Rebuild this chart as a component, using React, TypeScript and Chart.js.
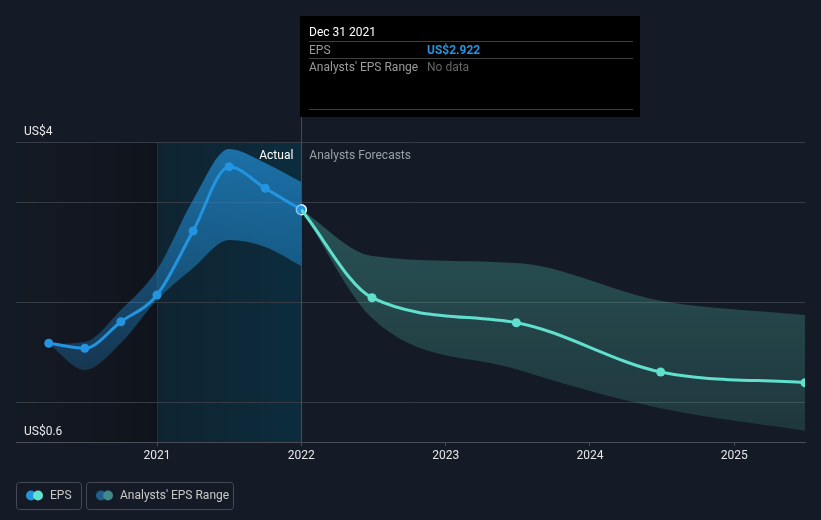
import React, { useEffect, useRef } from "react";
import { Chart, registerables } from "chart.js";

Chart.register(...registerables);

const X_MIN = 2020.023;
const X_MAX = 2025.49;
const Y_MIN = 0.6;
const Y_MAX = 3.6;
const Y_GRID = [0.6, 1, 2, 3, 3.6];
const X_TICKS = [2021, 2022, 2023, 2024, 2025];
const PAST_START = 2021.0;
const TODAY = 2022.0;

const actualX = [2020.25, 2020.5, 2020.75, 2021.0, 2021.25, 2021.5, 2021.75, 2022.0];
const actualEPS = [1.587, 1.537, 1.803, 2.07, 2.71, 3.353, 3.137, 2.922];
const actualHigh = [1.58, 1.6, 1.92, 2.32, 3.02, 3.53, 3.39, 3.2];
const actualLow = [1.58, 1.32, 1.59, 2.02, 2.34, 2.62, 2.55, 2.36];

const forecastX = [2022.0, 2022.49, 2023.49, 2024.49, 2025.49];
const forecastEPS = [2.922, 2.043, 1.793, 1.3, 1.193];
const forecastHigh = [2.922, 2.46, 2.39, 2.013, 1.87];
const forecastLow = [2.922, 1.84, 1.327, 0.937, 0.713];

const yLabelTop = "US$4";
const yLabelBottom = "US$0.6";
const tooltipTitle = "Dec 31 2021";
const tooltipEPS = "US$2.922";

const FONT = "Roboto, 'Noto Sans', sans-serif";
const BG = "#151b26";

const zip = (xs: number[], ys: number[]) => xs.map((x, i) => ({ x, y: ys[i] }));

function vGrad(ctx: any, area: any, c: string, a0: number, a1: number) {
  const g = ctx.createLinearGradient(0, area.top, 0, area.bottom);
  g.addColorStop(0, `rgba(${c},${a0})`);
  g.addColorStop(1, `rgba(${c},${a1})`);
  return g;
}

const decorPlugin = {
  id: "decor",
  beforeDraw(chart: any) {
    const { ctx, chartArea: a, scales } = chart;
    const xs = scales.x;
    const x0 = xs.getPixelForValue(X_MIN);
    const x1 = xs.getPixelForValue(PAST_START);
    const x2 = xs.getPixelForValue(TODAY);
    ctx.save();
    let g = ctx.createLinearGradient(x0, 0, x1, 0);
    g.addColorStop(0, "rgba(0,0,0,0.02)");
    g.addColorStop(1, "rgba(0,0,0,0.25)");
    ctx.fillStyle = g;
    ctx.fillRect(x0, a.top, x1 - x0, a.bottom - a.top);
    g = ctx.createLinearGradient(x1, 0, x2, 0);
    g.addColorStop(0, "rgba(0,60,80,0.28)");
    g.addColorStop(1, "rgba(0,70,95,0.42)");
    ctx.fillStyle = g;
    ctx.fillRect(x1, a.top, x2 - x1, a.bottom - a.top);
    ctx.strokeStyle = "rgba(30,70,90,0.5)";
    ctx.lineWidth = 1;
    ctx.beginPath();
    ctx.moveTo(Math.round(x1) + 0.5, a.top);
    ctx.lineTo(Math.round(x1) + 0.5, a.bottom);
    ctx.stroke();
    ctx.restore();
  },
  beforeDatasetsDraw(chart: any) {
    const { ctx, chartArea: a, scales } = chart;
    const x2 = Math.round(scales.x.getPixelForValue(TODAY)) + 0.5;
    ctx.save();
    ctx.strokeStyle = "rgba(60,130,160,0.55)";
    ctx.lineWidth = 1;
    ctx.beginPath();
    ctx.moveTo(x2, 117);
    ctx.lineTo(x2, a.bottom);
    ctx.stroke();
    ctx.restore();
  },
  afterDraw(chart: any) {
    const { ctx, chartArea: a, scales } = chart;
    const ys = scales.y;
    const x2 = scales.x.getPixelForValue(TODAY);
    ctx.save();
    ctx.textBaseline = "middle";
    ctx.font = `12px ${FONT}`;
    ctx.fillStyle = "#e8e8e8";
    ctx.textAlign = "left";
    ctx.fillText(yLabelTop, a.left + 8, ys.getPixelForValue(Y_MAX) - 10);
    ctx.fillText(yLabelBottom, a.left + 8, ys.getPixelForValue(Y_MIN) - 10);
    ctx.textAlign = "right";
    ctx.fillStyle = "#ffffff";
    ctx.fillText("Actual", x2 - 8, a.top + 14);
    ctx.textAlign = "left";
    ctx.fillStyle = "#9aa0a6";
    ctx.fillText("Analysts Forecasts", x2 + 8, a.top + 14);

    const bx = Math.round(x2) - 1;
    ctx.fillStyle = "#000000";
    ctx.fillRect(bx, 16, 340, 101);
    ctx.strokeStyle = "#3f3f3f";
    ctx.lineWidth = 1;
    [41, 58, 109].forEach((yy) => {
      ctx.beginPath();
      ctx.moveTo(bx + 9, yy + 0.5);
      ctx.lineTo(bx + 333, yy + 0.5);
      ctx.stroke();
    });
    ctx.fillStyle = "#ffffff";
    ctx.font = `12px ${FONT}`;
    ctx.fillText(tooltipTitle, bx + 9, 32.5);
    ctx.fillStyle = "#9a9a9a";
    ctx.fillText("EPS", bx + 9, 51);
    ctx.fillText("Analysts' EPS Range", bx + 9, 67.5);
    ctx.fillStyle = "#2394df";
    ctx.font = `bold 12px ${FONT}`;
    ctx.fillText(tooltipEPS, bx + 127, 51);
    ctx.fillStyle = "#666666";
    ctx.font = `12px ${FONT}`;
    ctx.fillText("No data", bx + 127, 67.5);

    const box = (x: number, w: number) => {
      ctx.strokeStyle = "#454b55";
      ctx.lineWidth = 1;
      ctx.beginPath();
      ctx.roundRect(x + 0.5, 482.5, w, 27, 3);
      ctx.stroke();
    };
    const dot = (x: number, c: string) => {
      ctx.fillStyle = c;
      ctx.beginPath();
      ctx.arc(x, 495.5, 5, 0, Math.PI * 2);
      ctx.fill();
    };
    box(16, 65);
    dot(31, "#2394df");
    dot(38, "#62e3d0");
    ctx.fillStyle = "#c8c8c8";
    ctx.fillText("EPS", 50, 496);
    box(86, 147);
    dot(101, "#1f5f8f");
    dot(108, "#3f8a86");
    ctx.fillStyle = "#c8c8c8";
    ctx.fillText("Analysts' EPS Range", 120, 496);
    ctx.restore();
  },
};

export default function App() {
  const ref = useRef<HTMLCanvasElement | null>(null);
  useEffect(() => {
    if (!ref.current) return;
    const chart = new Chart(ref.current, {
      type: "line",
      data: {
        datasets: [
          {
            data: zip(actualX, actualHigh),
            fill: "+1",
            borderWidth: 0,
            pointRadius: 0,
            cubicInterpolationMode: "monotone",
            backgroundColor: (c: any) =>
              c.chart.chartArea ? vGrad(c.chart.ctx, c.chart.chartArea, "35,148,223", 0.68, 0.12) : "rgba(35,148,223,0.5)",
          },
          {
            data: zip(actualX, actualLow),
            fill: false,
            borderWidth: 0,
            pointRadius: 0,
            cubicInterpolationMode: "monotone",
          },
          {
            data: zip(forecastX, forecastHigh),
            fill: "+1",
            borderWidth: 0,
            pointRadius: 0,
            cubicInterpolationMode: "monotone",
            backgroundColor: (c: any) =>
              c.chart.chartArea ? vGrad(c.chart.ctx, c.chart.chartArea, "88,212,194", 0.34, 0.15) : "rgba(88,212,194,0.25)",
          },
          {
            data: zip(forecastX, forecastLow),
            fill: false,
            borderWidth: 0,
            pointRadius: 0,
            cubicInterpolationMode: "monotone",
          },
          {
            data: zip(forecastX, forecastEPS),
            fill: false,
            borderColor: "#62e3d0",
            borderWidth: 3,
            backgroundColor: "#62e3d0",
            pointRadius: forecastX.map((_, i) => (i === 0 ? 0 : 4.5)),
            pointBorderWidth: 0,
            cubicInterpolationMode: "monotone",
          },
          {
            data: zip(actualX, actualEPS),
            fill: false,
            borderColor: "#2394df",
            borderWidth: 3,
            backgroundColor: "#2394df",
            pointRadius: actualX.map((_, i) => (i === actualX.length - 1 ? 5 : 4.5)),
            pointBorderWidth: actualX.map((_, i) => (i === actualX.length - 1 ? 1.5 : 0)),
            pointBorderColor: actualX.map((_, i) => (i === actualX.length - 1 ? "#ffffff" : "#2394df")),
            cubicInterpolationMode: "monotone",
          },
        ],
      },
      options: {
        responsive: false,
        animation: false,
        layout: { padding: { left: 16, right: 16, top: 142, bottom: 53.6 } },
        plugins: { legend: { display: false }, tooltip: { enabled: false } },
        scales: {
          x: {
            type: "linear",
            min: X_MIN,
            max: X_MAX,
            afterBuildTicks: (s: any) => {
              s.ticks = X_TICKS.map((v) => ({ value: v }));
            },
            ticks: {
              color: "#e6e6e6",
              font: { family: FONT, size: 12 },
              padding: 3,
              maxRotation: 0,
              callback: (v: any) => String(v),
            },
            grid: { display: true, drawOnChartArea: false, drawTicks: true, tickLength: 4, color: "#4a4f57" },
            border: { display: true, color: "#4a4f57", width: 1 },
          },
          y: {
            type: "linear",
            min: Y_MIN,
            max: Y_MAX,
            afterBuildTicks: (s: any) => {
              s.ticks = Y_GRID.map((v) => ({ value: v }));
            },
            ticks: { display: false },
            grid: {
              drawTicks: false,
              color: (c: any) => (c.tick && c.tick.value === Y_MIN ? "rgba(0,0,0,0)" : "#363c46"),
            },
            border: { display: false },
          },
        },
      },
      plugins: [decorPlugin],
    } as any);
    return () => chart.destroy();
  }, []);
  return (
    <div style={{ position: "fixed", left: 0, top: 0, width: 821, height: 520, background: BG }}>
      <canvas ref={ref} width={821} height={520} style={{ display: "block" }} />
    </div>
  );
}
